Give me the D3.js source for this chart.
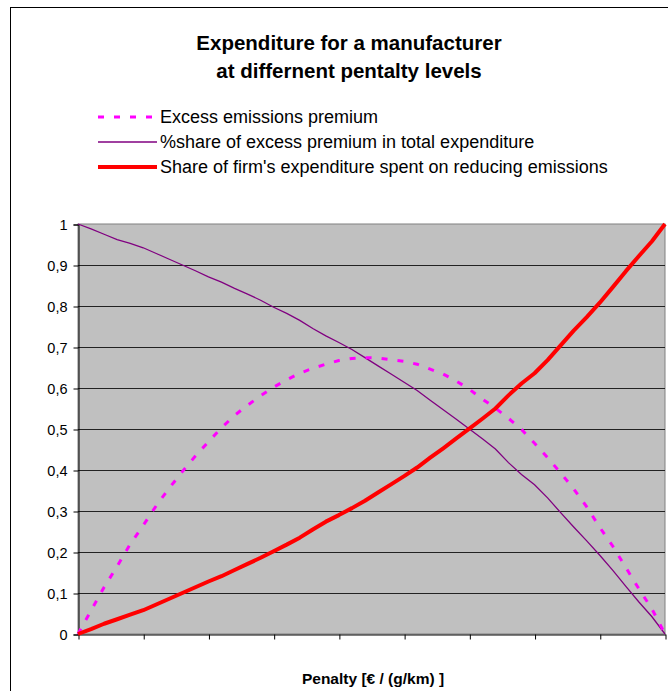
<!DOCTYPE html>
<html><head><meta charset="utf-8">
<script src="https://cdn.jsdelivr.net/npm/d3@7"></script>
<style>body{margin:0;background:#fff}svg{display:block}text{font-family:"Liberation Sans",Arial,sans-serif}</style>
</head><body><svg id="c" width="668" height="691"></svg>
<script>
const categories = d3.range(0, 46);
const xTicks = [0,5,10,15,20,25,30,35,40,45];
const yTicks = [0,0.1,0.2,0.3,0.4,0.5,0.6,0.7,0.8,0.9,1];
const yTickLabels = ["0","0,1","0,2","0,3","0,4","0,5","0,6","0,7","0,8","0,9","1"];
const premium = [0,0.057,0.114,0.165,0.219,0.265,0.313,0.356,0.396,0.434,0.469,0.503,0.533,0.558,0.581,0.602,0.620,0.636,0.648,0.658,0.667,0.672,0.674,0.673,0.669,0.665,0.658,0.646,0.634,0.617,0.597,0.573,0.551,0.526,0.499,0.465,0.430,0.393,0.354,0.310,0.260,0.214,0.162,0.110,0.061,0];
const premiumShare = [1.0,0.988,0.975,0.962,0.953,0.942,0.928,0.914,0.900,0.886,0.871,0.858,0.843,0.829,0.814,0.797,0.782,0.765,0.745,0.727,0.711,0.694,0.674,0.654,0.634,0.614,0.594,0.570,0.547,0.524,0.500,0.476,0.451,0.418,0.389,0.364,0.332,0.296,0.261,0.227,0.192,0.155,0.116,0.078,0.042,0];
const reducing = [0,0.012,0.025,0.036,0.047,0.058,0.072,0.086,0.100,0.114,0.128,0.141,0.156,0.171,0.186,0.202,0.218,0.235,0.255,0.274,0.290,0.307,0.325,0.345,0.365,0.385,0.406,0.430,0.453,0.477,0.501,0.525,0.550,0.582,0.611,0.636,0.668,0.704,0.740,0.773,0.808,0.846,0.885,0.922,0.958,1.0];
const seriesNames = ["Excess emissions premium","%share of excess premium in total expenditure","Share of firm's expenditure spent on reducing emissions"];
const titleLines = ["Expenditure for a manufacturer","at differnent pentalty levels"];
const xTitle = "Penalty [€ / (g/km) ]";

const svg = d3.select("#c");
svg.append("rect").attr("x",10.5).attr("y",7.5).attr("width",700).attr("height",700)
  .attr("fill","#fff").attr("stroke","#000").attr("stroke-width",1);

const L=78,R=665,T=224,B=634;
const x = d3.scaleLinear().domain([0,45]).range([L,R]);
const y = d3.scaleLinear().domain([0,1]).range([B,T]);

svg.append("rect").attr("x",L).attr("y",T).attr("width",R-L).attr("height",B-T)
  .attr("fill","#C0C0C0").attr("stroke","#808080").attr("stroke-width",1);

svg.append("g").selectAll("line").data(yTicks.filter(d=>d>0&&d<1)).join("line")
  .attr("x1",L).attr("x2",R).attr("y1",d=>Math.round(y(d))+0.5).attr("y2",d=>Math.round(y(d))+0.5)
  .attr("stroke","#222").attr("stroke-width",1);

const yAxis = d3.axisLeft(y).tickValues(yTicks).tickSize(5).tickPadding(6)
  .tickFormat((d,i)=>yTickLabels[i]);
const gy = svg.append("g").attr("transform",`translate(${L+0.5},0.5)`).call(yAxis);
gy.selectAll("text").attr("font-size",14.5).attr("fill","#000").attr("font-family","Liberation Sans, Arial, sans-serif");
gy.selectAll("line,path").attr("stroke","#000");

const xAxis = d3.axisBottom(x).tickValues(xTicks).tickSize(5).tickFormat("").tickSizeOuter(0);
const gx = svg.append("g").attr("transform",`translate(0.5,${B+0.5})`).call(xAxis);
gx.selectAll("line,path").attr("stroke","#000");

const line = d3.line().x((d,i)=>x(categories[i])).y(d=>y(d));
svg.append("path").datum(premiumShare).attr("d",line).attr("fill","none")
  .attr("stroke","#800080").attr("stroke-width",1.3);
svg.append("path").datum(premium).attr("d",line).attr("fill","none")
  .attr("stroke","#FF00FF").attr("stroke-width",3).attr("stroke-dasharray","6,10");
svg.append("path").datum(reducing).attr("d",line).attr("fill","none")
  .attr("stroke","#FF0000").attr("stroke-width",4).attr("stroke-linejoin","round");

svg.append("g").selectAll("text").data(titleLines).join("text")
  .attr("x",349).attr("y",(d,i)=>50+i*28).attr("text-anchor","middle")
  .attr("font-size",20.5).attr("font-weight","bold").text(d=>d);

const styles = [
  {c:"#FF00FF",w:3,da:"6,10"},
  {c:"#800080",w:1.3,da:null},
  {c:"#FF0000",w:4,da:null}
];
const lg = svg.append("g").selectAll("g").data(seriesNames).join("g")
  .attr("transform",(d,i)=>`translate(0,${117+i*25})`);
lg.append("line").attr("x1",98).attr("x2",157).attr("y1",0).attr("y2",0)
  .attr("stroke",(d,i)=>styles[i].c).attr("stroke-width",(d,i)=>styles[i].w)
  .attr("stroke-dasharray",(d,i)=>styles[i].da);
lg.append("text").attr("x",160).attr("y",6).attr("font-size",18).text(d=>d);

svg.append("text").attr("x",373).attr("y",684).attr("text-anchor","middle")
  .attr("font-size",15.5).attr("font-weight","bold").text(xTitle);
</script></body></html>
